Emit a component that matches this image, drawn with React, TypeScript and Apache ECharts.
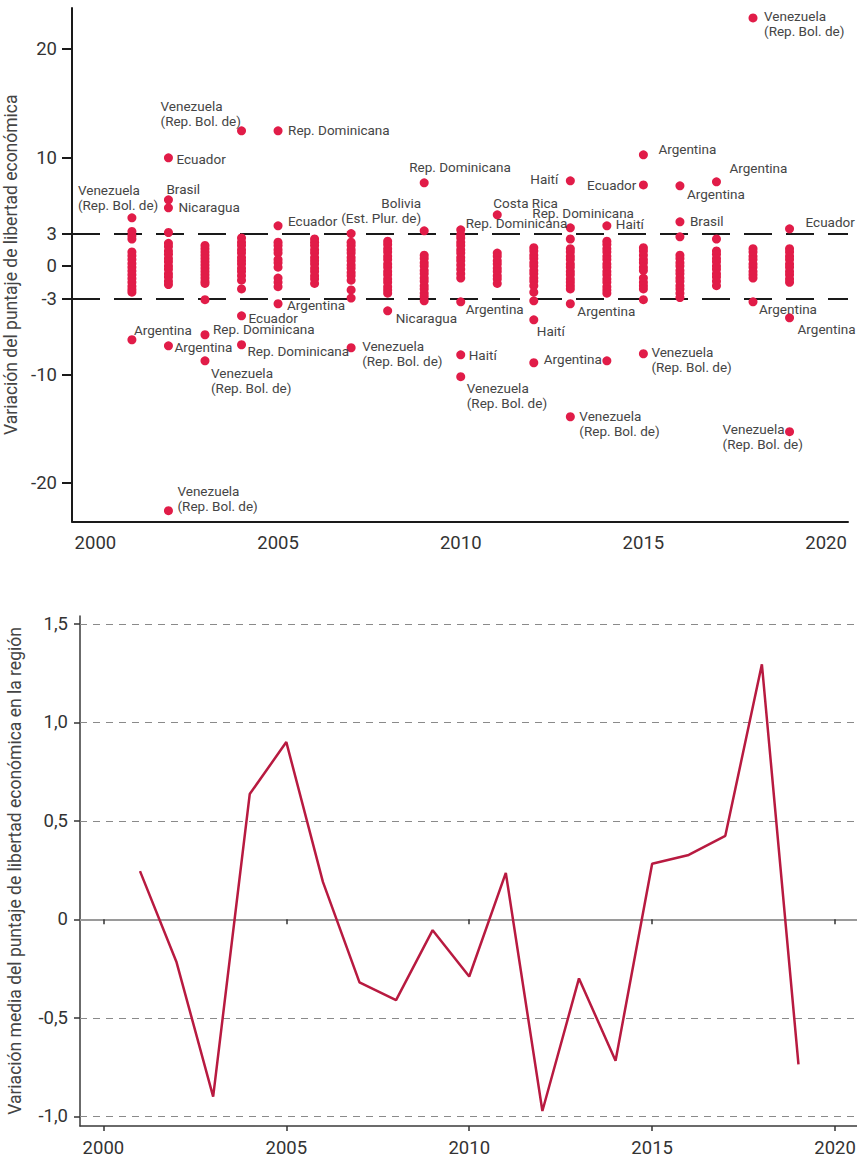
import React, { useEffect, useRef } from "react";
import * as echarts from "echarts";

// ---------- data ----------
const xTickYears = [2000, 2005, 2010, 2015, 2020];
const topYTicks = [-20, -10, -3, 0, 3, 10, 20];
const bottomYTicks = [-1, -0.5, 0, 0.5, 1, 1.5];

const clusterYears = [2001, 2002, 2003, 2004, 2005, 2006, 2007, 2008, 2009, 2010, 2011, 2012, 2013, 2014, 2015, 2016, 2017, 2018, 2019];
const clusterValues: number[][] = [
  [3.2, 2.8, 2.5, 1.3, 0.95, 0.6, 0.25, -0.1, -0.45, -0.8, -1.15, -1.5, -1.85, -2.15, -2.4],
  [3.1, 2.1, 1.8, 1.4, 1.1, 0.7, 0.4, 0.0, -0.3, -0.7, -1.0, -1.4, -1.7],
  [1.9, 1.6, 1.3, 1.0, 0.7, 0.4, 0.1, -0.2, -0.5, -0.8, -1.1, -1.4, -1.6, -3.1],
  [2.6, 2.2, 1.9, 1.5, 1.2, 0.8, 0.5, 0.2, -0.2, -0.5, -0.9, -1.3, -2.1],
  [2.2, 1.9, 1.5, 1.2, 0.6, 0.3, -0.1, -1.1, -1.5, -1.9],
  [2.5, 2.2, 1.9, 1.5, 1.2, 0.8, 0.5, 0.2, -0.2, -0.5, -0.9, -1.2, -1.6],
  [3.0, 2.2, 1.9, 1.5, 1.2, 0.8, 0.5, 0.1, -0.2, -0.6, -0.9, -1.3, -2.2, -2.95],
  [2.3, 2.0, 1.6, 1.3, 0.9, 0.6, 0.2, -0.1, -0.5, -0.8, -1.2, -1.5, -1.9, -2.2, -2.5],
  [1.0, 0.7, 0.3, 0.0, -0.4, -0.7, -1.1, -1.4, -1.8, -2.1, -2.5, -2.8, -3.2],
  [2.9, 2.6, 2.2, 1.9, 1.5, 1.2, 0.8, 0.5, 0.1, -0.3, -0.7, -1.1],
  [1.2, 0.9, 0.5, 0.2, -0.2, -0.5, -0.9, -1.2, -1.6],
  [1.7, 1.4, 1.0, 0.7, 0.3, 0.0, -0.4, -0.7, -1.1, -1.4, -1.8, -2.4, -3.2],
  [2.5, 1.6, 1.3, 0.9, 0.6, 0.2, -0.1, -0.5, -0.8, -1.2, -1.5, -1.8, -2.1],
  [2.3, 2.0, 1.6, 1.3, 0.9, 0.6, 0.2, -0.1, -0.5, -0.8, -1.2, -1.5, -1.9, -2.2, -2.5],
  [1.7, 1.4, 1.0, 0.6, 0.3, -0.1, -0.4, -1.1, -1.5, -1.8, -2.1, -3.1],
  [2.7, 1.0, 0.7, 0.3, 0.0, -0.4, -0.7, -1.1, -1.4, -1.8, -2.1, -2.5, -2.9],
  [2.5, 1.4, 1.1, 0.7, 0.4, 0.0, -0.3, -0.7, -1.0, -1.4, -1.8],
  [1.6, 1.3, 0.9, 0.6, 0.2, -0.1, -0.5, -0.8, -1.1],
  [1.6, 1.3, 0.9, 0.6, 0.2, -0.1, -0.5, -0.8, -1.2, -1.5],
];

const VEN = "Venezuela\n(Rep. Bol. de)";
const BOL = "Bolivia\n(Est. Plur. de)";
const RD = "Rep. Dominicana";

const outlierYears = [
  2001, 2001, 2002, 2002, 2002, 2002, 2002, 2003, 2003, 2004, 2004, 2004, 2005, 2005, 2005,
  2007, 2008, 2009, 2009, 2010, 2010, 2010, 2010, 2011, 2012, 2012, 2013, 2013, 2013, 2013,
  2014, 2014, 2015, 2015, 2015, 2016, 2016, 2017, 2018, 2018, 2019, 2019, 2019,
];
const outlierValues = [
  4.45, -6.79, 9.98, 6.11, 5.37, -7.35, -22.55, -6.33, -8.73, 12.47, -4.58, -7.25, 12.47, 3.71, -3.47,
  -7.53, -4.12, 7.68, 3.25, 3.35, -3.29, -8.18, -10.2, 4.73, -4.95, -8.91, 7.86, 3.53, -3.47, -13.89,
  3.71, -8.73, 10.26, 7.49, -8.08, 7.4, 4.08, 7.77, 22.88, -3.29, 3.44, -4.77, -15.27,
];
const outlierNames = [
  VEN, "Argentina", "Ecuador", "Brasil", "Nicaragua", "Argentina", VEN, RD, VEN, VEN, "Ecuador", RD, RD, "Ecuador", "Argentina",
  VEN, "Nicaragua", RD, BOL, RD, "Argentina", "Haití", VEN, "Costa Rica", "Haití", "Argentina", "Haití", RD, "Argentina", VEN,
  "Haití", "", "Argentina", "Ecuador", VEN, "Argentina", "Brasil", "Argentina", VEN, "Argentina", "Ecuador", "Argentina", VEN,
];
// label box offset from the point centre (px) and alignment
const labelPlacement: [number, number, string][] = [
  [-54, -37, "left"], [2, -19, "left"], [8, -8, "left"], [-2, -20, "left"], [10, -9.5, "left"], [6, -7.5, "left"], [9, -29, "left"],
  [8, -15, "left"], [6, 3, "left"], [-81, -34, "left"], [7, -6.5, "left"], [6, -3, "left"], [10, -9.5, "left"], [10, -14, "left"], [9, -7.5, "left"],
  [11, -11, "left"], [8, -2, "left"], [-15, -25, "left"], [-3, -37, "right"], [5, -16, "left"], [5, -2, "left"], [8, -8.5, "left"], [6, 2, "left"],
  [-4, -21, "left"], [3, 2, "left"], [10, -12.5, "left"], [-12, -10.5, "right"], [-38, -24, "left"], [7, -2, "left"], [9, -10, "left"],
  [9, -11, "left"], [0, 0, "left"], [15, -15, "left"], [-7, -8.5, "right"], [8, -11, "left"], [7, -1, "left"], [10, -9.5, "left"],
  [13, -23, "left"], [11, -11, "left"], [6, -2, "left"], [16, -16, "left"], [8, 2, "left"], [-67, -12, "left"],
];

const meanYears = [2001, 2002, 2003, 2004, 2005, 2006, 2007, 2008, 2009, 2010, 2011, 2012, 2013, 2014, 2015, 2016, 2017, 2018, 2019];
const meanValues = [0.245, -0.218, -0.9, 0.636, 0.9, 0.19, -0.32, -0.41, -0.055, -0.29, 0.236, -0.973, -0.3, -0.718, 0.282, 0.327, 0.424, 1.295, -0.736];

const gridLineValues = [1.5, 1, 0.5, -0.5, -1];

// ---------- styles ----------
const FONT = "Roboto, 'Liberation Sans', sans-serif";
const DOT = "#E11C48";
const LINE = "#B81A40";
const R = 4.5;
const TICK_FS = 18.5;
const TITLE_FS = 17.5;
const LABEL_FS = 13.5;

export default function App() {
  const ref = useRef<HTMLDivElement>(null);

  useEffect(() => {
    if (!ref.current) return;
    const chart = echarts.init(ref.current, undefined, { renderer: "svg" });

    const clusterData: number[][] = [];
    clusterYears.forEach((y, i) => clusterValues[i].forEach((v) => clusterData.push([y, v])));

    const outlierData = outlierYears.map((y, i) => {
      const name = outlierNames[i];
      const [dx, dy, align] = labelPlacement[i];
      return {
        value: [y, outlierValues[i]],
        label: name
          ? {
              show: true,
              formatter: name,
              position: [dx + R, dy + R + 1.5],
              align,
              verticalAlign: "top",
              fontSize: LABEL_FS,
              lineHeight: 15,
              color: "#454545",
              fontFamily: FONT,
            }
          : { show: false },
      };
    });

    const xBase = {
      type: "value",
      min: 1999.36,
      max: 2020.6,
      splitLine: { show: false },
    };

    const option: any = {
      animation: false,
      backgroundColor: "#ffffff",
      textStyle: { fontFamily: FONT },
      grid: [
        { left: 72, top: 8, width: 776, height: 513.5, outerBoundsMode: "none", containLabel: false },
        { left: 80, top: 616, width: 777, height: 510, outerBoundsMode: "none", containLabel: false },
      ],
      xAxis: [
        {
          ...xBase,
          gridIndex: 0,
          axisLine: { onZero: false, lineStyle: { color: "#1a1a1a", width: 2 } },
          axisTick: { show: false },
          axisLabel: { customValues: xTickYears, fontSize: TICK_FS, color: "#333", margin: 12, fontFamily: FONT, formatter: (v: number) => String(v) },
        },
        {
          ...xBase,
          gridIndex: 1,
          position: "bottom",
          axisLine: { onZero: false, lineStyle: { color: "#3a3a3a", width: 1.5 } },
          axisTick: { show: true, customValues: xTickYears, length: 5, lineStyle: { color: "#333", width: 1.5 } },
          axisLabel: { customValues: xTickYears, fontSize: TICK_FS, color: "#333", margin: 12, fontFamily: FONT, formatter: (v: number) => String(v) },
        },
        {
          ...xBase,
          gridIndex: 1,
          position: "bottom",
          axisLine: { onZero: true, lineStyle: { color: "#9a9a9a", width: 2 } },
          axisTick: { show: true, customValues: xTickYears, length: 5, lineStyle: { color: "#333", width: 1.5 } },
          axisLabel: { show: false },
        },
      ],
      yAxis: [
        {
          gridIndex: 0,
          type: "value",
          min: -23.55,
          max: 23.8,
          axisLine: { show: true, onZero: false, lineStyle: { color: "#1a1a1a", width: 2 } },
          axisTick: { show: true, customValues: topYTicks, length: 10, lineStyle: { color: "#1a1a1a", width: 2 } },
          axisLabel: { customValues: topYTicks, fontSize: TICK_FS, color: "#333", margin: 15, fontFamily: FONT, formatter: (v: number) => String(v) },
          splitLine: { show: false },
          name: "Variación del puntaje de libertad económica",
          nameLocation: "middle",
          nameGap: 46,
          nameTextStyle: { fontSize: TITLE_FS, color: "#444", fontFamily: FONT },
        },
        {
          gridIndex: 1,
          type: "value",
          min: -1.049,
          max: 1.54,
          axisLine: { show: true, onZero: false, lineStyle: { color: "#3a3a3a", width: 1.5 } },
          axisTick: { show: true, customValues: bottomYTicks, length: 6, lineStyle: { color: "#333", width: 1.5 } },
          axisLabel: {
            customValues: bottomYTicks,
            fontSize: TICK_FS,
            color: "#333",
            margin: 12,
            fontFamily: FONT,
            formatter: (v: number) => (v === 0 ? "0" : v.toFixed(1).replace(".", ",")),
          },
          splitLine: { show: false },
          name: "Variación media del puntaje de libertad económica en la región",
          nameLocation: "middle",
          nameGap: 56,
          nameTextStyle: { fontSize: TITLE_FS, color: "#444", fontFamily: FONT },
        },
      ],
      series: [
        {
          type: "scatter",
          xAxisIndex: 0,
          yAxisIndex: 0,
          symbol: "circle",
          symbolSize: R * 2,
          itemStyle: { color: DOT, opacity: 1 },
          data: clusterData,
          z: 3,
          markLine: {
            silent: true,
            symbol: "none",
            z: 1,
            label: { show: false },
            lineStyle: { color: "#1a1a1a", type: [28, 14], width: 2 },
            data: [{ yAxis: 3 }, { yAxis: -3 }],
          },
        },
        {
          type: "scatter",
          xAxisIndex: 0,
          yAxisIndex: 0,
          symbol: "circle",
          symbolSize: R * 2,
          itemStyle: { color: DOT, opacity: 1 },
          data: outlierData,
          z: 4,
        },
        {
          type: "line",
          xAxisIndex: 1,
          yAxisIndex: 1,
          data: meanYears.map((y, i) => [y, meanValues[i]]),
          symbol: "none",
          lineStyle: { color: LINE, width: 2.5 },
          z: 3,
          markLine: {
            silent: true,
            symbol: "none",
            z: 1,
            label: { show: false },
            lineStyle: { color: "#8a8a8a", type: [7, 6], width: 1 },
            data: gridLineValues.map((v) => ({ yAxis: v })),
          },
        },
      ],
    };

    chart.setOption(option);
    return () => chart.dispose();
  }, []);

  return (
    <div
      ref={ref}
      style={{ position: "absolute", left: 0, top: 0, width: 857, height: 1162, background: "#fff" }}
    />
  );
}
